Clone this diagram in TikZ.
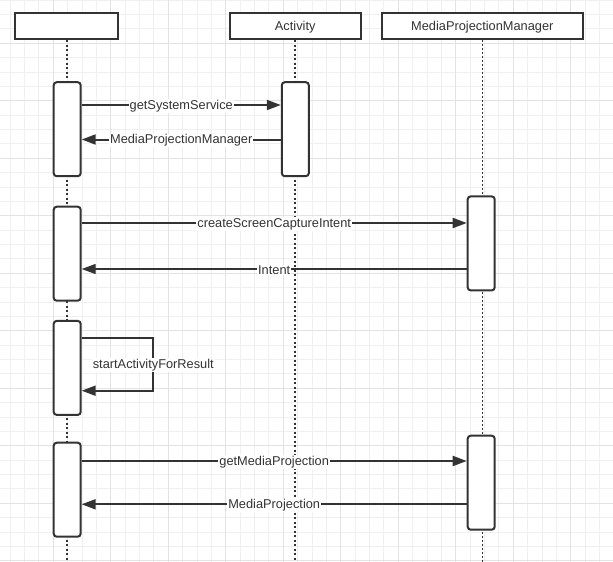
\documentclass[tikz,border=0pt]{standalone}
\usepackage{fontspec}
\setmainfont{Liberation Sans}
\usetikzlibrary{arrows.meta}
\definecolor{ink}{HTML}{333333}
\definecolor{gridminor}{HTML}{F0F0F0}
\definecolor{gridmajor}{HTML}{E3E3E3}
\begin{document}
\begin{tikzpicture}[x=1pt,y=-1pt,
  headbox/.style={draw=ink, line width=2pt, fill=white, minimum height=26.3pt, inner sep=0pt, text depth=0pt, font=\fontsize{12.8}{14}\selectfont, text=ink},
  actbar/.style={draw=ink, line width=2pt, fill=white, rounded corners=3pt, minimum width=27pt, minimum height=94pt, inner sep=0pt},
  lifeA/.style={ink, line width=2pt, dash pattern=on 2pt off 2.5pt},
  lifeB/.style={ink, line width=1pt, dash pattern=on 2pt off 2pt},
  msg/.style={ink, line width=2pt, -{Triangle[length=14pt,width=10pt]}},
  msgthin/.style={ink, line width=1.2pt, -{Triangle[length=14pt,width=10pt]}},
  lbl/.style={fill=white, text=ink, inner sep=1pt, yshift=-1pt, font=\fontsize{12.8}{14}\selectfont},
  minorline/.style={gridminor, line width=1pt},
  majorline/.style={gridmajor, line width=1pt},
]
\useasboundingbox (0,0) rectangle (613,562);
\fill[white] (0,0) rectangle (613,562);
% grid
\foreach \k in {0,...,41} \draw[minorline] ({10.175+14.375*\k},0) -- ({10.175+14.375*\k},562);
\foreach \k in {0,...,39} \draw[minorline] (0,{0.175+14.375*\k}) -- (613,{0.175+14.375*\k});
\foreach \k in {0,...,9} \draw[majorline] ({53.3+57.5*\k},0) -- ({53.3+57.5*\k},562);
\foreach \k in {0,...,9} \draw[majorline] (0,{43.3+57.5*\k}) -- (613,{43.3+57.5*\k});

% heads
\node[headbox, minimum width=103pt] (h1) at (66.8,25.85) {};
\node[headbox, minimum width=131pt] (h2) at (295.2,25.85) {Activity};
\node[headbox, minimum width=201pt] (h3) at (482.3,25.85) {MediaProjectionManager};

% lifelines
\coordinate (bottom) at (0,562);
\draw[lifeA] (h1.south) -- (h1.south |- bottom);
\draw[lifeA] (h2.south) -- (h2.south |- bottom);
\draw[lifeB] (h3.south) -- (h3.south |- bottom);

% activation bars
\node[actbar] (b1) at (67.2,129.2) {};
\node[actbar] (a1) at (295.3,129.2) {};
\node[actbar] (b2) at (67.2,253.7) {};
\node[actbar] (m1) at (481.2,243.4) {};
\node[actbar] (b3) at (67.2,367.9) {};
\node[actbar] (b4) at (67.2,489.7) {};
\node[actbar] (m2) at (481.2,482.7) {};

% message rows
\coordinate (r1) at (0,105);
\coordinate (r2) at (0,139.5);
\coordinate (r3) at (0,223);
\coordinate (r4) at (0,269);
\coordinate (r5) at (0,337.7);
\coordinate (r6) at (0,390.7);
\coordinate (r7) at (0,461);
\coordinate (r8) at (0,504.3);
\coordinate (loopx) at (153.3,0);

\draw[msg] (b1.east |- r1) -- node[lbl]{getSystemService} (a1.west |- r1);
\draw[msg] (a1.west |- r2) -- node[lbl]{MediaProjectionManager} (b1.east |- r2);
\draw[msg] (b2.east |- r3) -- node[lbl]{createScreenCaptureIntent} (m1.west |- r3);
\draw[msgthin] (m1.west |- r4) -- node[lbl]{Intent} (b2.east |- r4);
\draw[msg] (b3.east |- r5) -- (loopx |- r5) -- node[lbl]{startActivityForResult} (loopx |- r6) -- (b3.east |- r6);
\draw[msg] (b4.east |- r7) -- node[lbl]{getMediaProjection} (m2.west |- r7);
\draw[msg] (m2.west |- r8) -- node[lbl]{MediaProjection} (b4.east |- r8);
\end{tikzpicture}
\end{document}
